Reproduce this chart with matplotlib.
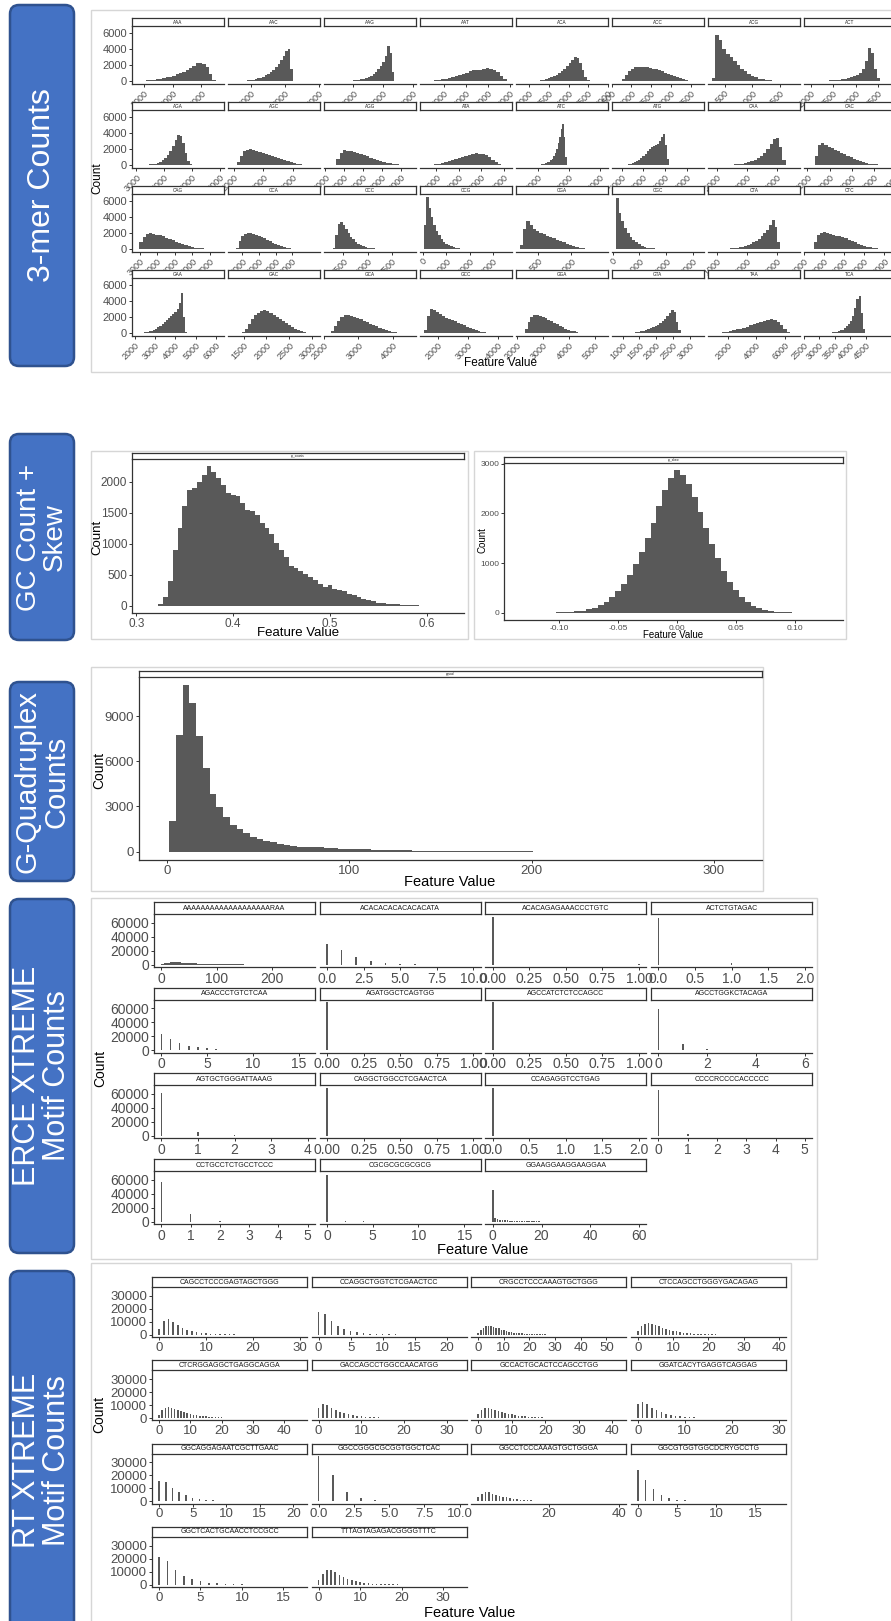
import numpy as np
import matplotlib.pyplot as plt
from matplotlib.patches import FancyBboxPatch, Rectangle

plt.rcParams['font.family'] = ['Liberation Sans', 'DejaVu Sans']

W, H = 891, 1621
BAR = '#595959'
AXC = '#333333'
TXT = '#4d4d4d'

# ---------------- 3-mer counts ----------------
kmer_names = ['AAA', 'AAC', 'AAG', 'AAT', 'ACA', 'ACC', 'ACG', 'ACT',
              'AGA', 'AGC', 'AGG', 'ATA', 'ATC', 'ATG', 'CAA', 'CAC',
              'CAG', 'CCA', 'CCC', 'CCG', 'CGA', 'CGC', 'CTA', 'CTC',
              'GAA', 'GAC', 'GCA', 'GCC', 'GGA', 'GTA', 'TAA', 'TCA']
# bin range that holds the counts below
kmer_bins = [(2100, 10500), (1500, 3300), (2500, 4450), (500, 8000), (3000, 4600), (1700, 3500), (270, 1800), (2000, 3600),
             (3000, 5200), (2000, 4500), (2400, 6600), (900, 8100), (1800, 3000), (2000, 4300), (1850, 4400), (2200, 5600),
             (2800, 7200), (2600, 6600), (1400, 7500), (50, 2500), (230, 1400), (120, 2600), (1000, 3200), (2350, 6000),
             (2060, 4600), (1400, 3000), (2120, 4300), (1550, 3900), (2200, 4800), (1100, 2800), (900, 6600), (3000, 4600)]
# min / max of each feature
kmer_span = [(2100, 10930), (1427, 3897), (2140, 4950), (200, 7800), (2757, 4893), (1606, 3724), (266, 1788), (1934, 3806),
             (2972, 6008), (1940, 4750), (2123, 6577), (875, 8365), (1425, 4135), (1724, 5606), (1840, 4630), (2010, 5810),
             (2780, 7560), (2354, 7426), (892, 9518), (49, 3621), (230, 1482), (116, 3244), (840, 3630), (2341, 6369),
             (2057, 6193), (1242, 3078), (2120, 4530), (1539, 4311), (2111, 5339), (795, 3295), (893, 6757), (2635, 5335)]
kmer_counts = [
    [30, 50, 80, 110, 150, 200, 260, 330, 410, 500, 600, 720, 860, 1020, 1200, 1420, 1700, 1980, 2250, 2300, 2150, 1750, 900, 150],
    [20, 30, 50, 70, 100, 140, 180, 230, 300, 380, 480, 600, 750, 930, 1150, 1420, 1750, 2150, 2650, 3200, 3800, 4000, 1500, 100],
    [10, 20, 30, 40, 60, 80, 110, 150, 200, 260, 340, 440, 560, 720, 920, 1180, 1500, 1900, 2450, 3200, 4400, 3600, 1200, 100],
    [40, 80, 130, 190, 260, 350, 450, 560, 690, 820, 960, 1100, 1250, 1380, 1400, 1480, 1560, 1620, 1600, 1450, 1150, 700, 300, 80],
    [20, 40, 60, 90, 130, 190, 270, 370, 500, 660, 850, 1060, 1300, 1580, 1900, 2250, 2650, 3100, 2950, 2300, 1400, 600, 150, 30],
    [50, 300, 800, 1300, 1600, 1750, 1800, 1820, 1780, 1750, 1680, 1600, 1500, 1380, 1250, 1100, 950, 800, 650, 500, 380, 270, 180, 100],
    [400, 5800, 5200, 4000, 3400, 3000, 2500, 2000, 1600, 1250, 950, 700, 500, 350, 250, 170, 110, 70, 45, 30, 20, 10, 5, 2],
    [20, 30, 40, 50, 70, 90, 110, 140, 170, 210, 260, 320, 400, 500, 640, 820, 1100, 1600, 2600, 4200, 3500, 1500, 400, 60],
    [10, 20, 30, 50, 70, 110, 160, 230, 330, 480, 680, 950, 1300, 1800, 2450, 3150, 3800, 3700, 2800, 1500, 500, 120, 20, 5],
    [50, 400, 1200, 1750, 1950, 2000, 1900, 1800, 1700, 1600, 1480, 1350, 1200, 1050, 900, 760, 630, 500, 390, 290, 210, 140, 90, 50],
    [100, 800, 1600, 1900, 1850, 1750, 1650, 1550, 1420, 1280, 1130, 980, 830, 690, 560, 450, 350, 270, 200, 140, 100, 70, 40, 20],
    [30, 60, 100, 150, 220, 300, 400, 520, 650, 790, 930, 1080, 1220, 1350, 1450, 1500, 1480, 1400, 1250, 1000, 700, 400, 180, 50],
    [10, 20, 30, 40, 60, 80, 110, 150, 200, 270, 360, 480, 640, 850, 1150, 1550, 2100, 2800, 3600, 4500, 5200, 3500, 1000, 100],
    [20, 40, 70, 110, 170, 250, 360, 500, 680, 900, 1150, 1450, 1750, 2050, 2300, 2450, 2550, 2700, 3000, 3500, 3900, 2600, 800, 100],
    [10, 20, 30, 45, 60, 80, 100, 130, 170, 220, 290, 380, 500, 660, 870, 1150, 1550, 2100, 2700, 3300, 3400, 2300, 700, 80],
    [100, 1200, 2600, 2800, 2550, 2300, 2150, 1980, 1800, 1600, 1400, 1200, 1000, 820, 660, 520, 400, 300, 220, 160, 110, 70, 40, 20],
    [100, 900, 1600, 1900, 2000, 1950, 1850, 1750, 1620, 1480, 1320, 1150, 980, 820, 670, 530, 410, 310, 230, 160, 110, 70, 40, 20],
    [150, 1000, 1700, 1950, 2100, 2050, 1950, 1850, 1700, 1550, 1380, 1200, 1020, 850, 690, 550, 420, 310, 220, 150, 100, 60, 30, 15],
    [200, 1800, 3200, 3450, 3000, 2500, 2000, 1600, 1250, 950, 720, 540, 400, 300, 220, 160, 120, 90, 65, 45, 30, 20, 12, 6],
    [3000, 6600, 5200, 4000, 3000, 2300, 1750, 1300, 950, 700, 500, 360, 250, 170, 120, 80, 55, 35, 25, 15, 10, 6, 3, 2],
    [500, 2600, 3600, 3100, 2600, 2250, 2050, 1880, 1720, 1560, 1390, 1210, 1030, 860, 700, 560, 430, 320, 230, 160, 100, 60, 30, 15],
    [6400, 4600, 3500, 2700, 2100, 1600, 1200, 900, 650, 470, 330, 230, 160, 110, 75, 50, 35, 22, 14, 9, 6, 4, 2, 1],
    [10, 20, 35, 55, 80, 110, 150, 200, 260, 340, 440, 560, 710, 890, 1100, 1350, 1650, 2000, 2450, 3000, 3700, 2800, 900, 100],
    [100, 900, 1800, 2100, 2200, 2050, 1900, 1780, 1700, 1620, 1500, 1380, 1230, 1060, 890, 730, 580, 450, 340, 250, 170, 110, 60, 30],
    [20, 40, 60, 90, 130, 180, 250, 340, 450, 590, 760, 950, 1150, 1400, 1650, 1900, 2150, 2400, 2700, 3000, 3800, 5000, 2000, 200],
    [50, 200, 600, 1200, 1800, 2300, 2600, 2800, 2900, 2750, 2500, 2250, 2000, 1750, 1500, 1250, 1000, 780, 580, 410, 270, 160, 80, 30],
    [50, 300, 900, 1600, 2100, 2300, 2250, 2150, 2050, 1900, 1750, 1580, 1400, 1220, 1040, 870, 710, 560, 430, 320, 220, 140, 80, 40],
    [400, 2200, 3000, 2950, 2700, 2400, 2150, 1950, 1800, 1650, 1500, 1350, 1180, 1000, 830, 670, 520, 390, 280, 190, 120, 70, 40, 20],
    [100, 600, 1400, 2000, 2250, 2300, 2200, 2050, 1900, 1720, 1540, 1350, 1150, 950, 770, 600, 460, 340, 240, 160, 100, 60, 30, 15],
    [20, 40, 70, 100, 140, 190, 250, 320, 400, 500, 620, 760, 920, 1100, 1320, 1560, 1850, 2200, 2600, 2900, 2700, 1400, 400, 60],
    [30, 60, 100, 150, 220, 300, 390, 490, 600, 720, 850, 1000, 1150, 1300, 1450, 1600, 1720, 1780, 1650, 1400, 1000, 550, 200, 50],
    [10, 20, 30, 40, 60, 80, 110, 150, 200, 270, 360, 480, 640, 860, 1150, 1550, 2200, 3200, 4300, 4650, 2500, 600, 80, 10],
]
kmer_breaks = [[3000, 6000, 9000], [2000, 3000, 4000], [3000, 4000, 5000], [2000, 4000, 6000, 8000],
               [3000, 3500, 4000, 4500, 5000], [1500, 2000, 2500, 3000, 3500], [500, 1000, 1500], [2000, 2500, 3000, 3500],
               [3000, 4000, 5000, 6000], [2000, 3000, 4000], [2000, 3000, 4000, 5000, 6000], [2000, 4000, 6000, 8000],
               [2000, 3000, 4000], [2000, 3000, 4000, 5000], [2000, 3000, 4000], [2000, 3000, 4000, 5000, 6000],
               [3000, 4000, 5000, 6000, 7000], [3000, 4000, 5000, 6000], [2500, 5000, 7500], [0, 1000, 2000, 3000],
               [500, 1000], [0, 1000, 2000, 3000], [1000, 2000, 3000], [2000, 3000, 4000, 5000, 6000],
               [2000, 3000, 4000, 5000, 6000], [1500, 2000, 2500, 3000], [2000, 3000, 4000], [2000, 3000, 4000],
               [2000, 3000, 4000, 5000], [1000, 1500, 2000, 2500, 3000], [2000, 4000, 6000], [2500, 3000, 3500, 4000, 4500]]

# ---------------- GC count / GC skew ----------------
gc_bins = (0.3175, 0.6325)
gc_span = (0.311, 0.623)
gc_counts = [5, 30, 150, 400, 900, 1250, 1600, 1870, 1900, 2000, 2100, 2250, 2150, 2050, 1950, 1820,
             1780, 1760, 1650, 1540, 1530, 1470, 1330, 1250, 1150, 1020, 900, 780, 650, 610, 570, 510,
             460, 420, 360, 300, 340, 270, 250, 240, 200, 170, 140, 115, 90, 75, 55, 45, 38, 30, 25,
             20, 16, 12, 10, 8, 6, 5, 4, 3, 2, 2, 1]
skew_bins = (-0.1325, 0.1325)
skew_span = (-0.134, 0.128)
skew_counts = [1, 1, 2, 3, 4, 6, 8, 12, 18, 28, 45, 70, 105, 155, 220, 310, 430, 580, 760, 980,
               1220, 1500, 1800, 2150, 2480, 2720, 2870, 2780, 2600, 2330, 2020, 1700, 1380, 1100,
               840, 620, 450, 310, 210, 140, 90, 58, 36, 22, 14, 9, 6, 4, 3, 2, 1, 1, 1]

# ---------------- G-quadruplex counts ----------------
g4_bins = (1.0, 304.4)
g4_span = (0, 311)
g4_counts = [2050, 7770, 11040, 9870, 7680, 5520, 3860, 2980, 2270, 1770,
             1480, 1210, 990, 820, 710, 620, 530, 440, 380, 330,
             310, 290, 320, 250, 230, 210, 190, 175, 160, 145,
             130, 118, 106, 96, 87, 79, 72, 65, 59, 54,
             49, 44, 40, 36, 33, 30, 27, 25, 22, 20,
             18, 16, 15, 13, 12, 11, 10, 9, 8, 7,
             6, 6, 5, 5, 4, 4, 3, 3, 3, 2,
             2, 2, 2, 1, 1, 1, 1, 1, 1, 1, 1, 1]

# ---------------- ERCE XTREME motifs (counts at 0, step, 2*step, ...) ----------------
erce_names = ['AAAAAAAAAAAAAAAAAAARAA', 'ACACACACACACACATA', 'ACACAGAGAAACCCTGTC', 'ACTCTGTAGAC',
              'AGACCCTGTCTCAA', 'AGATGGCTCAGTGG', 'AGCCATCTCTCCAGCC', 'AGCCTGGKCTACAGA',
              'AGTGCTGGGATTAAAG', 'CAGGCTGGCCTCGAACTCA', 'CCAGAGGTCCTGAG', 'CCCCRCCCCACCCCC',
              'CCTGCCTCTGCCTCCC', 'CGCGCGCGCGCG', 'GGAAGGAAGGAAGGAA']
erce_step = [5, 1, 1, 1, 1, 1, 1, 1, 1, 1, 1, 1, 1, 1, 1]
erce_counts = [
    [500, 1800, 2800, 3300, 3500, 3400, 3200, 2950, 2700, 2450, 2200, 1950, 1750, 1550, 1370, 1200, 1050, 910,
     790, 680, 590, 500, 430, 370, 315, 270, 230, 195, 165, 140, 118, 100, 84, 70, 59, 49, 41, 34, 28, 23,
     19, 16, 13, 11, 9, 7, 6, 5, 4, 3, 2, 2, 1, 1],
    [29000, 20500, 11000, 5000, 1800, 600, 250, 80, 30, 10, 3],
    [68600, 200],
    [66800, 1900, 100],
    [23500, 16500, 10500, 6700, 4400, 2700, 1700, 1000, 600, 350, 200, 100, 50, 25, 10, 5, 2],
    [68795, 5],
    [68790, 10],
    [58300, 9000, 1300, 170, 25, 5, 1],
    [61800, 6000, 900, 90, 10],
    [68797, 3],
    [68400, 380, 20],
    [65200, 3000, 500, 80, 15, 3],
    [56500, 10500, 1600, 200, 30, 5],
    [66500, 0, 1200, 0, 500, 0, 250, 0, 120, 0, 60, 0, 30, 0, 12, 0, 5],
    [45000, 5500, 3800, 3000, 2500, 2100, 1800, 1550, 1350, 1180, 1030, 900, 790, 690, 600, 530, 460, 400,
     350, 310, 270, 235, 205, 180, 157, 137, 120, 105, 92, 80, 70, 61, 53, 46, 40, 35, 31, 27, 23, 20, 18,
     16, 14, 12, 10, 9, 8, 7, 6, 5, 4, 4, 3, 3, 2, 2, 2, 1, 1, 1, 1],
]
erce_breaks = [['0', '100', '200'], ['0.0', '2.5', '5.0', '7.5', '10.0'], ['0.00', '0.25', '0.50', '0.75', '1.00'],
               ['0.0', '0.5', '1.0', '1.5', '2.0'], ['0', '5', '10', '15'], ['0.00', '0.25', '0.50', '0.75', '1.00'],
               ['0.00', '0.25', '0.50', '0.75', '1.00'], ['0', '2', '4', '6'], ['0', '1', '2', '3', '4'],
               ['0.00', '0.25', '0.50', '0.75', '1.00'], ['0.0', '0.5', '1.0', '1.5', '2.0'], ['0', '1', '2', '3', '4', '5'],
               ['0', '1', '2', '3', '4', '5'], ['0', '5', '10', '15'], ['0', '20', '40', '60']]

# ---------------- RT XTREME motifs (counts at 0, 1, 2, ...) ----------------
rt_names = ['CAGCCTCCCGAGTAGCTGGG', 'CCAGGCTGGTCTCGAACTCC', 'CRGCCTCCCAAAGTGCTGGG', 'CTCCAGCCTGGGYGACAGAG',
            'CTCRGGAGGCTGAGGCAGGA', 'GACCAGCCTGGCCAACATGG', 'GCCACTGCACTCCAGCCTGG', 'GGATCACYTGAGGTCAGGAG',
            'GGCAGGAGAATCGCTTGAAC', 'GGCCGGGCGCGGTGGCTCAC', 'GGCCTCCCAAAGTGCTGGGA', 'GGCGTGGTGGCDCRYGCCTG',
            'GGCTCACTGCAACCTCCGCC', 'TTTAGTAGAGACGGGGTTTC']
rt_counts = [
    [4500, 10500, 12000, 10000, 7500, 5500, 4000, 3000, 2200, 1600, 1200, 900, 680, 500, 380, 280, 210, 160,
     120, 90, 65, 50, 37, 28, 20, 15, 11, 8, 6, 4, 3],
    [17500, 16000, 10500, 7000, 4500, 3000, 2000, 1300, 900, 600, 400, 270, 180, 120, 80, 55, 36, 24, 16, 10, 7, 4, 3],
    [1500, 3500, 5500, 6500, 7000, 6800, 6200, 5500, 4800, 4000, 3400, 2900, 2450, 2050, 1700, 1420, 1180, 980,
     810, 670, 560, 460, 380, 315, 260, 215, 180, 150, 125, 100, 85, 70, 58, 48, 40, 33, 27, 22, 18, 15, 12,
     10, 8, 7, 6, 5, 4, 3, 3, 2, 2, 2, 1, 1, 1, 1],
    [2500, 6500, 8500, 9000, 8500, 7500, 6500, 5500, 4600, 3800, 3100, 2500, 2000, 1600, 1280, 1020, 810, 640,
     510, 400, 320, 250, 200, 160, 125, 100, 80, 62, 50, 40, 31, 25, 20, 15, 12, 10, 8, 6, 5, 4, 3],
    [2500, 6000, 8000, 8500, 8000, 7000, 6000, 5200, 4400, 3700, 3100, 2600, 2150, 1780, 1470, 1210, 1000, 820,
     670, 550, 450, 370, 300, 245, 200, 165, 135, 110, 90, 73, 60, 49, 40, 32, 26, 21, 17, 14, 11, 9, 7, 6, 5, 4, 3, 2],
    [7500, 11000, 10000, 8000, 6200, 4800, 3700, 2900, 2200, 1700, 1300, 1000, 770, 590, 450, 345, 265, 200,
     155, 118, 90, 69, 53, 40, 31, 24, 18, 14, 10, 8, 6, 5, 4, 3],
    [3000, 6500, 8000, 8000, 7200, 6300, 5400, 4600, 3900, 3300, 2750, 2300, 1900, 1570, 1300, 1070, 880, 720,
     590, 480, 390, 320, 260, 210, 170, 140, 113, 92, 75, 60, 49, 40, 32, 26, 21, 17, 14, 11, 9, 7, 6, 5, 4],
    [11000, 12500, 10500, 8000, 6000, 4400, 3200, 2300, 1700, 1250, 900, 650, 470, 340, 250, 180, 130, 95, 70,
     50, 36, 26, 19, 14, 10, 7, 5, 4, 3, 2, 1],
    [15500, 15000, 10500, 7000, 4500, 2900, 1800, 1100, 700, 450, 280, 180, 110, 70, 45, 28, 18, 11, 7, 4, 3, 2],
    [35000, 20500, 7500, 2500, 800, 250, 80, 25, 8, 3, 1],
    [3000, 5500, 7000, 6800, 6000, 5200, 4400, 3600, 3000, 2400, 1950, 1550, 1250, 1000, 800, 640, 510, 400,
     320, 250, 200, 155, 120, 95, 75, 58, 45, 35, 27, 21, 16, 12, 9, 7, 5, 4, 3, 2, 2, 1, 1],
    [24000, 16500, 9500, 5000, 2600, 1300, 650, 300, 150, 70, 30, 15, 8, 4, 2, 1, 1, 1, 1],
    [21000, 18000, 11500, 7000, 4200, 2500, 1500, 900, 500, 280, 160, 90, 50, 28, 16, 9, 5, 3],
    [3500, 8500, 11000, 11000, 9500, 7500, 5800, 4400, 3300, 2450, 1800, 1320, 970, 710, 520, 380, 280, 205,
     150, 110, 80, 58, 42, 31, 23, 17, 12, 9, 7, 5, 4, 3, 2, 2, 1],
]
rt_breaks = [['0', '10', '20', '30'], ['0', '5', '10', '15', '20'], ['0', '10', '20', '30', '40', '50'],
             ['0', '10', '20', '30', '40'], ['0', '10', '20', '30', '40'], ['0', '10', '20', '30'],
             ['0', '10', '20', '30', '40'], ['0', '10', '20', '30'], ['0', '5', '10', '15', '20'],
             ['0.0', '2.5', '5.0', '7.5', '10.0'], ['20', '40'], ['0', '5', '10', '15'],
             ['0', '5', '10', '15'], ['0', '10', '20', '30']]


fig = plt.figure(figsize=(W / 100, H / 100), dpi=100)
# pixel-space canvas for boxes, frames and shared axis titles
bg = fig.add_axes([0, 0, 1, 1], zorder=-1)
bg.set_xlim(0, W)
bg.set_ylim(H, 0)
bg.axis('off')


def px_axes(x0, y0, x1, y1):
    return fig.add_axes([x0 / W, 1 - y1 / H, (x1 - x0) / W, (y1 - y0) / H])


def side_box(y0, y1, label, fs):
    pad = 9
    bg.add_patch(FancyBboxPatch((10 + pad, y0 + pad), 64 - 2 * pad, y1 - y0 - 2 * pad,
                                boxstyle='round,pad=%d' % pad, fc='#4472C4', ec='#2F528F', lw=1.8))
    bg.text(42, (y0 + y1) / 2, label, rotation=90, ha='center', va='center',
            color='white', fontsize=fs, linespacing=1.0)


def frame(x0, y0, x1, y1):
    bg.add_patch(Rectangle((x0, y0), x1 - x0, y1 - y0, fc='white', ec='#d6d6d6', lw=1))


def facet(x0, y0, x1, y1, strip_h, title, strip_fs, show_y, fs):
    st = px_axes(x0, y0, x1, y0 + strip_h)
    st.set_xticks([])
    st.set_yticks([])
    for s in st.spines.values():
        s.set_color(AXC)
        s.set_linewidth(0.9)
    st.text(0.5, 0.5, title, transform=st.transAxes, ha='center', va='center',
            fontsize=strip_fs, color='#1a1a1a')
    ax = px_axes(x0, y0 + strip_h, x1, y1)
    ax.patch.set_alpha(0)
    ax.spines[['top', 'right']].set_visible(False)
    ax.spines['bottom'].set_color(AXC)
    ax.spines['bottom'].set_linewidth(0.9)
    ax.tick_params(length=2.2, width=0.7, color=AXC, labelcolor=TXT, labelsize=fs, pad=1.2)
    if show_y:
        ax.spines['left'].set_color(AXC)
        ax.spines['left'].set_linewidth(0.9)
    else:
        ax.spines['left'].set_visible(False)
        ax.set_yticks([])
    return ax


def hist_bins(ax, lo, hi, counts):
    edges = np.linspace(lo, hi, len(counts) + 1)
    ax.bar(edges[:-1], counts, width=np.diff(edges), align='edge', color=BAR, lw=0)


def hist_values(ax, counts, step):
    xs = np.arange(len(counts)) * step
    if step > 1:
        ax.bar(xs, counts, width=step, align='edge', color=BAR, lw=0)
    else:
        ax.bar(xs, counts, width=max(xs[-1], 1) / 90, color=BAR, lw=0)
    return xs[0], max(xs[-1], 1)


def set_x(ax, vmin, vmax):
    pad = 0.05 * (vmax - vmin)
    ax.set_xlim(vmin - pad, vmax + pad)


def set_y(ax, top):
    ax.set_ylim(-0.05 * top, 1.05 * top)


# ---- 3-mer panel ----
frame(91, 10, 905, 372)
side_box(5, 366, '3-mer Counts', 23)
kmax = max(max(c) for c in kmer_counts)
for i, name in enumerate(kmer_names):
    r, c = divmod(i, 8)
    x0 = 131.5 + 96 * c
    top = 18 + 84 * r
    ax = facet(x0, top, x0 + 92.5, top + 66, 8, name, 3.3, c == 0, 8)
    hist_bins(ax, *kmer_bins[i], kmer_counts[i])
    set_x(ax, *kmer_span[i])
    set_y(ax, kmax)
    ax.set_xticks(kmer_breaks[i])
    ax.set_xticklabels([str(b) for b in kmer_breaks[i]], rotation=45, ha='right', va='top',
                       rotation_mode='anchor', fontsize=6.5)
    if c == 0:
        ax.set_yticks([0, 2000, 4000, 6000])
bg.text(97, 178, 'Count', rotation=90, ha='center', va='center', fontsize=8.5)
bg.text(500, 363, 'Feature Value', ha='center', va='center', fontsize=8.5)

# ---- GC count + skew ----
side_box(434, 640, 'GC Count +\nSkew', 20)
frame(91, 451, 468, 639)
ax = facet(132, 453, 464, 613, 6, 'gc_counts', 2.2, True, 8.5)
hist_bins(ax, *gc_bins, gc_counts)
set_x(ax, *gc_span)
set_y(ax, max(gc_counts))
ax.set_xticks([0.3, 0.4, 0.5, 0.6])
ax.set_xticklabels(['0.3', '0.4', '0.5', '0.6'])
ax.set_yticks([0, 500, 1000, 1500, 2000])
bg.text(97, 537, 'Count', rotation=90, ha='center', va='center', fontsize=9.5)
bg.text(298, 633, 'Feature Value', ha='center', va='center', fontsize=9.5)

frame(474, 451, 846, 639)
ax = facet(504, 457, 843, 620, 6, 'gc_skew', 2.2, True, 6)
hist_bins(ax, *skew_bins, skew_counts)
set_x(ax, *skew_span)
set_y(ax, max(skew_counts))
ax.set_xticks([-0.1, -0.05, 0.0, 0.05, 0.1])
ax.set_xticklabels(['-0.10', '-0.05', '0.00', '0.05', '0.10'])
ax.set_yticks([0, 1000, 2000, 3000])
bg.text(483, 540, 'Count', rotation=90, ha='center', va='center', fontsize=7)
bg.text(673, 635, 'Feature Value', ha='center', va='center', fontsize=7)

# ---- G-quadruplex ----
side_box(682, 881, 'G-Quadruplex\nCounts', 21)
frame(91, 667, 763, 891)
ax = facet(139, 671, 762, 860, 6, 'gquad', 2.2, True, 9.5)
hist_bins(ax, *g4_bins, g4_counts)
set_x(ax, *g4_span)
set_y(ax, max(g4_counts))
ax.set_xticks([0, 100, 200, 300])
ax.set_yticks([0, 3000, 6000, 9000])
bg.text(99, 770, 'Count', rotation=90, ha='center', va='center', fontsize=10)
bg.text(450, 882, 'Feature Value', ha='center', va='center', fontsize=10.5)

# ---- ERCE XTREME ----
side_box(899, 1253, 'ERCE XTREME\nMotif Counts', 22)
frame(91, 898, 817, 1259)
emax = max(max(c) for c in erce_counts)
for i, name in enumerate(erce_names):
    r, c = divmod(i, 4)
    x0 = 154 + 165.7 * c
    top = 902 + 85.7 * r
    ax = facet(x0, top, x0 + 161, top + 65, 12, name, 5, c == 0, 10)
    lo, hi = hist_values(ax, erce_counts[i], erce_step[i])
    set_x(ax, lo, hi)
    set_y(ax, emax)
    ax.set_xticks([float(b) for b in erce_breaks[i]])
    ax.set_xticklabels(erce_breaks[i])
    if c == 0:
        ax.set_yticks([0, 20000, 40000, 60000])
bg.text(100, 1068, 'Count', rotation=90, ha='center', va='center', fontsize=10)
bg.text(483, 1250, 'Feature Value', ha='center', va='center', fontsize=10.5)

# ---- RT XTREME ----
side_box(1271, 1650, 'RT XTREME\nMotif Counts', 22)
frame(91, 1263, 791, 1650)
rmax = max(max(c) for c in rt_counts)
for i, name in enumerate(rt_names):
    r, c = divmod(i, 4)
    x0 = 152 + 159.6 * c
    top = 1277 + 83.3 * r
    ax = facet(x0, top, x0 + 155, top + 60, 10, name, 5, c == 0, 9.5)
    lo, hi = hist_values(ax, rt_counts[i], 1)
    set_x(ax, lo, hi)
    set_y(ax, rmax)
    ax.set_xticks([float(b) for b in rt_breaks[i]])
    ax.set_xticklabels(rt_breaks[i])
    if c == 0:
        ax.set_yticks([0, 10000, 20000, 30000])
bg.text(99, 1414, 'Count', rotation=90, ha='center', va='center', fontsize=10)
bg.text(470, 1613, 'Feature Value', ha='center', va='center', fontsize=10.5)

fig.savefig('out.png', dpi=100)
